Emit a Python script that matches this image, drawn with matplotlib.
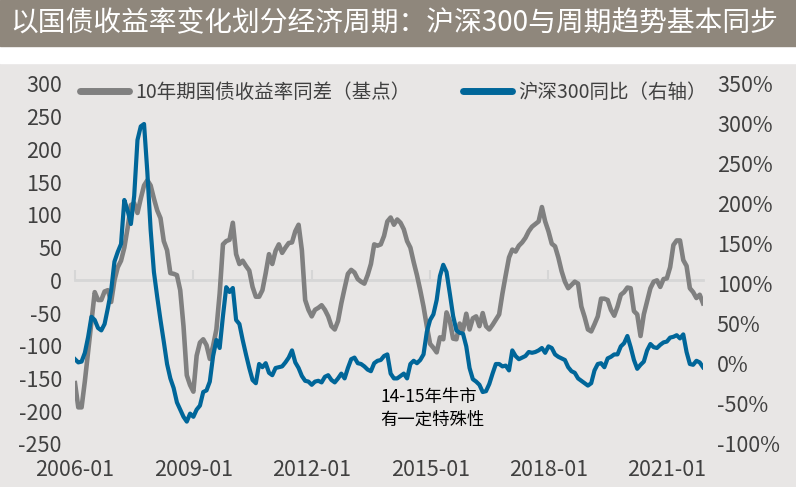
import matplotlib
matplotlib.use('Agg')
import matplotlib.pyplot as plt
import matplotlib.transforms as mtrans
from matplotlib.patches import Rectangle
from matplotlib.lines import Line2D

plt.rcParams['font.family'] = ['Noto Sans CJK SC', 'DejaVu Sans']

# ---------------- data ----------------
months = [f"{2006 + i // 12}-{i % 12 + 1:02d}" for i in range(192)]  # 2006-01 .. 2021-12

# 10年期国债收益率同差（基点）, left axis
bond_yoy_bp = [
    -157, -194, -194, -154, -108, -63, -18, -30, -30, -17, -15, -33,      # 2006
    0, 20, 30, 50, 80, 115, 118, 103, 125, 145, 153, 145,                  # 2007
    125, 107, 95, 60, 46, 11, 10, 8, -15, -70, -145, -160,                 # 2008
    -170, -115, -95, -90, -99, -120, -100, -75, -20, 55, 60, 62,           # 2009
    88, 40, 25, 30, 22, 15, -10, -25, -25, -15, 11, 40,                    # 2010
    25, 45, 55, 42, 50, 57, 58, 75, 85, 46, -30, -45,                      # 2011
    -55, -45, -42, -38, -45, -55, -70, -75, -62, -35, -12, 10,             # 2012
    16, 12, 2, -2, -5, 8, 25, 55, 53, 55, 68, 90,                          # 2013
    96, 85, 93, 88, 78, 60, 50, 28, 8, -15, -40, -70,                      # 2014
    -97, -103, -110, -87, -90, -49, -62, -89, -90, -66, -76, -51,          # 2015
    -75, -58, -55, -70, -50, -70, -75, -68, -60, -52, -20, 8,              # 2016
    35, 47, 44, 53, 58, 65, 75, 82, 86, 90, 112, 90,                       # 2017
    75, 56, 52, 35, 14, -2, -12, -7, -2, -5, -40, -56,                     # 2018
    -75, -78, -67, -55, -28, -28, -30, -45, -54, -40, -22, -18,            # 2019
    -11, -12, -47, -52, -85, -52, -32, -12, -2, 0, -10, 2,                 # 2020
    3, 20, 54, 61, 61, 31, 22, -12, -18, -27, -22, -35,                    # 2021
]

# 沪深300同比（右轴）, %
csi300_yoy_pct = [
    6, 2, 3, 14, 34, 59, 55, 45, 42, 50, 70, 92,                           # 2006
    128, 140, 150, 205, 192, 175, 210, 280, 297, 300, 240, 168,            # 2007
    115, 84, 55, 28, 0, -18, -30, -48, -57, -66, -72, -62,                 # 2008
    -66, -57, -52, -35, -33, -22, 10, 30, 20, 60, 96, 90,                  # 2009
    95, 55, 50, 30, 12, -5, -20, -24, 0, -4, 1, -11,                       # 2010
    -14, -5, -4, -3, 2, 8, 17, 2, -5, -15, -21, -22,                       # 2011
    -26, -22, -21, -23, -16, -14, -20, -23, -18, -12, -18, -5,             # 2012
    6, 8, 1, 0, -3, -7, -9, 1, 4, 5, 10, 12,                               # 2013
    -12, -18, -18, -15, -12, -18, 0, 4, 1, 5, 12, 40,                      # 2014
    55, 62, 80, 110, 124, 115, 88, 60, 42, 39, 38, 22,                     # 2015
    -5, -19, -22, -26, -35, -34, -25, -12, 0, 0, -3, -2,                   # 2016
    -8, 17, 10, 6, 8, 10, 15, 14, 15, 17, 20, 14,                          # 2017
    22, 20, 12, 9, 7, 5, -4, -9, -11, -18, -21, -24,                       # 2018
    -27, -24, -8, 0, 1, -4, 7, 9, 12, 12, 22, 26,                          # 2019
    35, 21, 5, -6, -1, 3, 17, 25, 21, 20, 24, 27,                          # 2020
    28, 33, 34, 36, 32, 37, 15, 0, -1, 4, 2, -4,                           # 2021
]

x_tick_labels = ['2006-01', '2009-01', '2012-01', '2015-01', '2018-01', '2021-01']
left_ticks = list(range(-250, 301, 50))
right_ticks = list(range(-100, 351, 50))

title = '以国债收益率变化划分经济周期：沪深300与周期趋势基本同步'
label_bond = '10年期国债收益率同差（基点）'
label_csi = '沪深300同比（右轴）'
note_line1 = '14-15年牛市'
note_line2 = '有一定特殊性'

# ---------------- style ----------------
GRAY = '#808080'
BLUE = '#006699'
TXT = '#404040'
BG = '#e8e6e5'
BAR = '#8f877c'

W, H = 796, 487
fig = plt.figure(figsize=(W / 100, H / 100), dpi=100, facecolor=BG)
fig.patches.append(Rectangle((0, 1 - 63 / H), 1, 63 / H, transform=fig.transFigure,
                             color='white', zorder=0))
fig.patches.append(Rectangle((0, 1 - 46 / H), 1, 46 / H, transform=fig.transFigure,
                             color=BAR, zorder=0))
fig.text(10 / W, 1 - 23 / H, title, color='white', fontsize=20, ha='left', va='center')

ax = fig.add_axes([75 / W, 1 - 444 / H, 628 / W, 360 / H])
ax.set_facecolor('none')
ax2 = ax.twinx()

x = list(range(len(months)))
ax.plot(x, bond_yoy_bp, color=GRAY, lw=3.3, solid_joinstyle='round', zorder=3)
ax2.plot(x, csi300_yoy_pct, color=BLUE, lw=3.0, solid_joinstyle='round', zorder=3)

ax.set_xlim(0, len(months) - 1)
ax.set_ylim(-250, 300)
ax2.set_ylim(-100, 350)

for a in (ax, ax2):
    for s in ('top', 'left', 'right', 'bottom'):
        a.spines[s].set_visible(False)

ax.spines['bottom'].set_visible(True)
ax.spines['bottom'].set_position(('data', 0))
ax.spines['bottom'].set_color('#d6d6d6')
ax.spines['bottom'].set_linewidth(2)
ax.spines['bottom'].set_zorder(1)

tick_pos = [months.index(l) for l in x_tick_labels]
ax.set_xticks(tick_pos)
ax.tick_params(axis='x', direction='in', length=7, width=1.5, color='#d6d6d6',
               labelbottom=False)
btrans = mtrans.blended_transform_factory(ax.transData, ax.transAxes)
for p, l in zip(tick_pos, x_tick_labels):
    ax.text(p, -0.072, l, transform=btrans, ha='center', va='center',
            fontsize=15.5, color=TXT)

ax.set_yticks(left_ticks)
ax.set_yticklabels([str(v) for v in left_ticks])
ax.tick_params(axis='y', length=0, pad=9.5, labelsize=15.5, labelcolor=TXT)

ax2.set_yticks(right_ticks)
ax2.set_yticklabels([f"{v}%" for v in right_ticks])
ax2.tick_params(axis='y', length=0, pad=10, labelsize=15.5, labelcolor=TXT)

handles = [Line2D([], [], color=GRAY, lw=5, solid_capstyle='round'),
           Line2D([], [], color=BLUE, lw=5, solid_capstyle='round')]
leg = fig.legend(handles, [label_bond, label_csi], loc='center left',
                 bbox_to_anchor=(80 / W, 1 - 92 / H), bbox_transform=fig.transFigure,
                 ncol=2, frameon=False, fontsize=14, handlelength=2.5,
                 handletextpad=0.35, columnspacing=2.7, borderpad=0, borderaxespad=0)
for t in leg.get_texts():
    t.set_color(TXT)

fig.text(380 / W, 1 - 397 / H, note_line1, fontsize=12.5, color='black',
         ha='left', va='center')
fig.text(380 / W, 1 - 420 / H, note_line2, fontsize=12.5, color='black',
         ha='left', va='center')

fig.savefig('out.png', dpi=100, facecolor=fig.get_facecolor())
